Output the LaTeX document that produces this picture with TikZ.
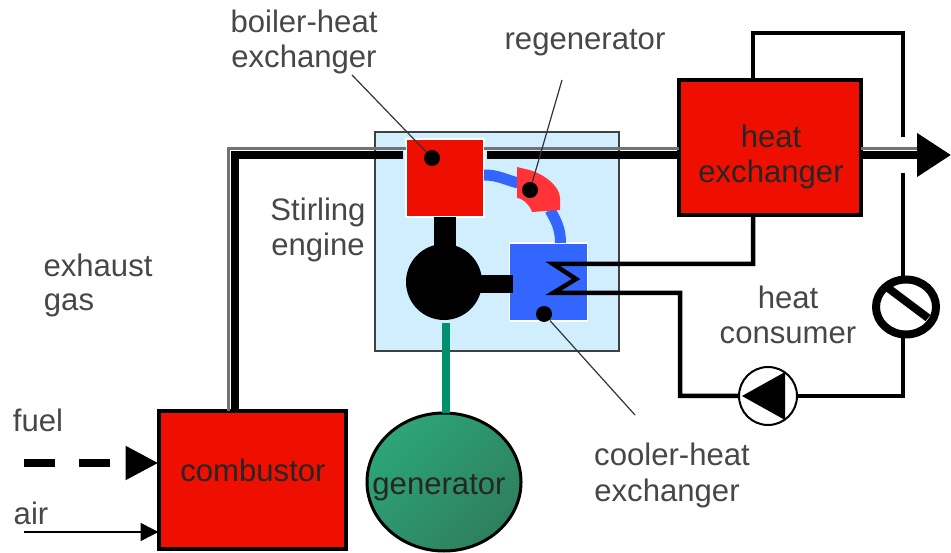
\documentclass[tikz,border=0pt]{standalone}
\usepackage{fontspec}
\setmainfont{Liberation Sans}
\usetikzlibrary{arrows.meta,calc,shapes.geometric}
\definecolor{heatred}{HTML}{EF0F00}
\definecolor{regenred}{HTML}{FF3338}
\definecolor{coolblue}{HTML}{3366FF}
\definecolor{enginebg}{HTML}{D1EEFF}
\definecolor{shaftteal}{HTML}{00906C}
\definecolor{genlight}{HTML}{2DA578}
\definecolor{gendark}{HTML}{2E7F5E}
\tikzset{
  lbl/.style={text=black!72,inner sep=0pt,align=center},
  heatbox/.style={rectangle,draw=black,fill=heatred,line width=.04cm,outer sep=0pt,text=black!85,align=center},
  wetbox/.style={rectangle,draw=white,line width=.015cm,outer sep=0pt,minimum width=.78cm,minimum height=.78cm},
  enginebox/.style={rectangle,draw=black!75,fill=enginebg,line width=.02cm,minimum width=2.44cm,minimum height=2.19cm},
  tack/.style={circle,fill=black,inner sep=0pt,minimum size=.16cm},
  gasline/.style={black!55,line width=.035cm},
  gasedge/.style={black,line width=.075cm},
  pipeline/.style={black,line width=.045cm,line join=miter},
  bluepipe/.style={coolblue,line width=.11cm},
  stem/.style={black,line width=.22cm},
  leader/.style={black!80,line width=.012cm},
  every node/.style={font=\fontsize{8.85}{10}\selectfont}
}
\begin{document}
\begin{tikzpicture}
\useasboundingbox (0,0) rectangle (9.51,5.52);
\node[enginebox] (engbox) at (4.97,3.105) {};
% components
\node[wetbox,fill=heatred] (boiler) at (4.45,3.74) {};
\node[wetbox,fill=coolblue] (cooler) at (5.485,2.70) {};
\node[circle,fill=black,inner sep=0pt,outer sep=0pt,minimum size=.76cm] (engine) at (4.44,2.70) {};
\node[heatbox,minimum width=1.87cm,minimum height=1.37cm] (combustor) at (2.52,0.72) {};
\node[heatbox,minimum width=1.82cm,minimum height=1.35cm] (hx) at (7.70,4.045) {};
\node[ellipse,draw=black,top color=genlight,bottom color=gendark,shading angle=45,line width=.03cm,inner sep=0pt,outer sep=0pt,
  minimum width=1.54cm,minimum height=1.38cm] (generator) at (4.44,0.70) {};
\node[circle,draw=black,line width=.02cm,inner sep=0pt,outer sep=0pt,minimum size=.58cm] (pump) at (7.68,1.56) {};
\node[ellipse,draw=black,line width=.08cm,inner sep=0pt,outer sep=0pt,minimum width=.60cm,minimum height=.55cm] (valve) at (9.06,2.45) {};
% exhaust gas
\coordinate (gasg) at (2.285,4.035);
\coordinate (gas) at (2.35,3.97);
\coordinate (gastip) at (9.51,3.97);
\draw[gasline] (gasg |- combustor.north) -- (gasg) -- (boiler.west |- gasg);
\draw[gasline] (boiler.east |- gasg) -- (hx.west |- gasg);
\draw[gasline] (hx.east |- gasg) -- (9.17,4.035);
\draw[gasedge] (gas |- combustor.north) -- (gas) -- ([xshift=-.03cm]boiler.west |- gas);
\draw[gasedge] ([xshift=.03cm]boiler.east |- gas) -- (hx.west |- gas);
\draw[gasedge,-{Triangle[length=.34cm,width=.42cm]}] (hx.east |- gas) -- (gastip);
% water loop
\coordinate (hxup) at (7.53,5.19);
\coordinate (loopr) at (9.03,5.19);
\coordinate (gapa) at (9.03,4.15);
\coordinate (gapb) at (9.03,3.79);
\coordinate (coila) at (5.53,2.88);
\coordinate (coilm) at (5.76,2.73);
\coordinate (coilb) at (5.53,2.59);
\coordinate (loopl) at (6.80,2.59);
\draw[pipeline] (hxup |- hx.north) -- (hxup) -- (loopr) -- (gapa);
\draw[pipeline] (gapb) -- (gapb |- valve.north);
\draw[pipeline] (hxup |- hx.south) -- (hxup |- coila) -- (coila) -- (coilm) -- (coilb) -- (loopl) -- (loopl |- pump) -- (pump.west);
\draw[pipeline] (pump.east) -- (gapb |- pump) -- (gapb |- valve.south);
\fill[black] ($(pump)+(-.26,0)$) -- ($(pump)+(.17,.24)$) -- ($(pump)+(.17,-.24)$) -- cycle;
\draw[black,line width=.08cm] ($(valve)+(-.18,.19)$) -- ($(valve)+(.22,-.11)$);
% engine
\coordinate (stemy) at (4.45,2.68);
\draw[stem] (boiler.south) -- (boiler.south |- engine.center);
\draw[stem,line width=.18cm] (stemy) -- ([xshift=.03cm]cooler.west |- stemy);
\draw[shaftteal,line width=.085cm] ([xshift=.02cm,yshift=-.03cm]engine.south) -- ([xshift=.02cm]generator.north);
% regenerator
\coordinate (rgin) at (5.18,3.69);
\coordinate (rgout) at (5.50,3.42);
\coordinate (rgdown) at (5.605,3.09);
\draw[bluepipe] ([yshift=.03cm]boiler.east) to[out=0,in=165] (rgin);
\draw[bluepipe] (rgout) to[out=-60,in=90] (rgdown);
\fill[regenred] (5.17,3.85) -- (5.25,3.83) .. controls (5.42,3.80) and (5.60,3.66) .. (5.60,3.54)
  -- (5.60,3.42) -- (5.32,3.40) .. controls (5.30,3.47) and (5.22,3.54) .. (5.17,3.54) -- cycle;
% fuel and air
\coordinate (fuelin) at (0.24,0.89);
\coordinate (airin) at (0.24,0.20);
\draw[black,line width=.08cm,dash pattern=on .31cm off .24cm,-{Triangle[length=.33cm,width=.32cm]}] (fuelin) -- (combustor.west |- fuelin);
\draw[black,line width=.015cm,-{Triangle[length=.18cm,width=.18cm]}] (airin) -- (combustor.west |- airin);
% leaders
\node[tack] (bdot) at (4.32,3.94) {};
\node[tack] (rdot) at (5.30,3.62) {};
\node[tack] (cdot) at (5.44,2.38) {};
\coordinate (bend) at (3.52,4.77);
\coordinate (rend) at (5.62,4.72);
\coordinate (cend) at (6.35,1.37);
\draw[leader] (bend) -- (bdot);
\draw[leader] (rend) -- (rdot);
\draw[leader] (cend) -- (cdot);
% texts
\node[lbl] (boilerlbl) at (3.04,5.10) {boiler-heat\\exchanger};
\node[lbl] (regenlbl) at (5.85,5.09) {regenerator};
\node[lbl] (stirlbl) at (3.18,3.22) {Stirling\\engine};
\node[lbl] (gaslbl) at (0.98,2.87) {exhaust};
\node[lbl] (gaslblb) at (0.69,2.47) {gas};
\node[lbl] (fuellbl) at (0.38,1.32) {fuel};
\node[lbl] (airlbl) at (0.31,0.39) {air};
\node[lbl,text=black!85] (combustorlbl) at (2.53,0.82) {combustor};
\node[lbl,text=black!85] (genlbl) at (4.39,0.64) {generator};
\node[lbl,text=black!85] (hxlbl) at (7.71,3.95) {heat\\exchanger};
\node[lbl] (consumerlbl) at (7.88,2.37) {heat\\consumer};
\node[lbl] (coolerlbl) at (6.72,0.98) {cooler-heat};
\node[lbl] (coolerlblb) at (6.67,0.59) {exchanger};
\end{tikzpicture}
\end{document}
